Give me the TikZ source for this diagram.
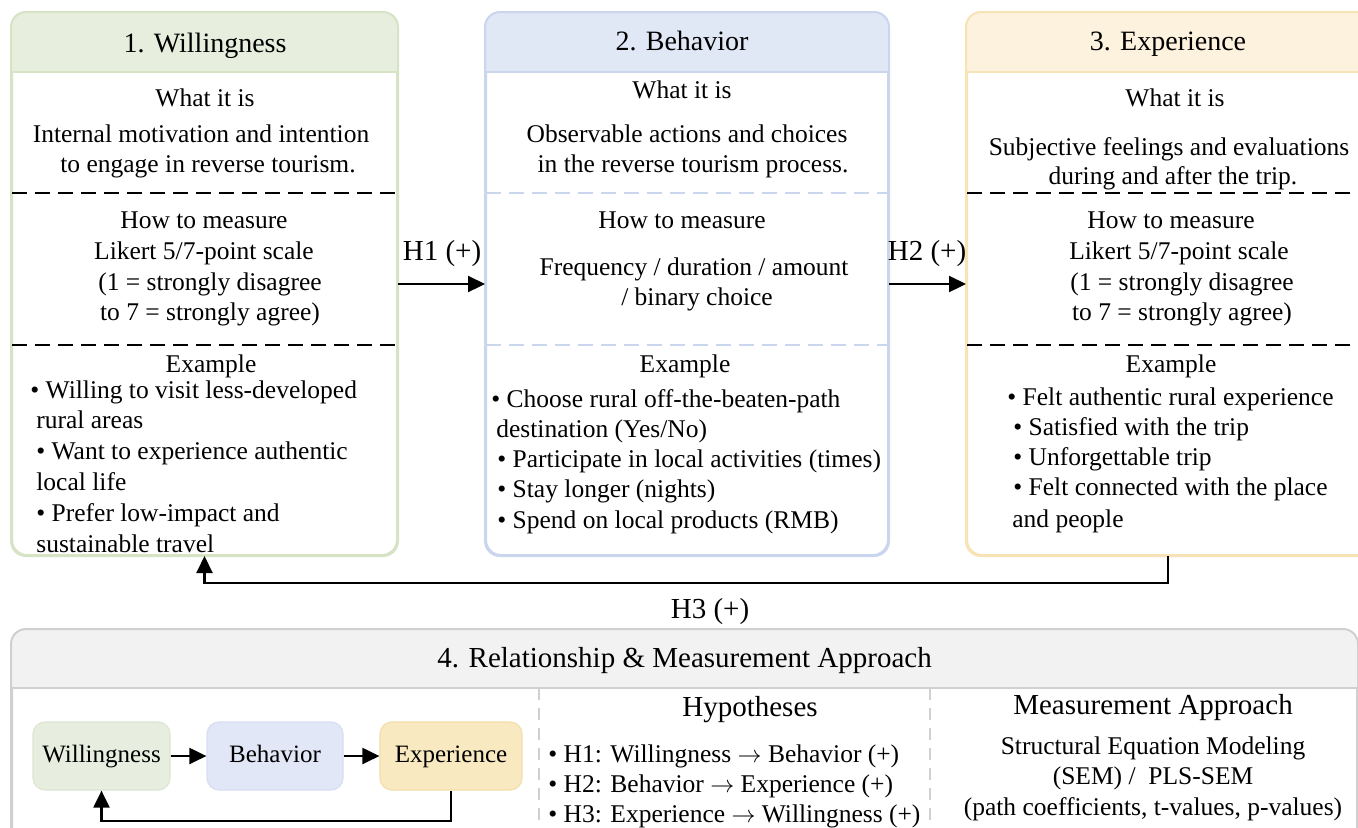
\documentclass[tikz,border=0pt]{standalone}
\usepackage{fontspec}
\setmainfont{Liberation Serif}
\usetikzlibrary{arrows.meta}
\definecolor{gH}{HTML}{E7EEDE}
\definecolor{gB}{HTML}{D6E3C4}
\definecolor{bH}{HTML}{E0E7F5}
\definecolor{bB}{HTML}{C9D6EE}
\definecolor{yH}{HTML}{FCF2DE}
\definecolor{yB}{HTML}{F7E3B5}
\definecolor{kH}{HTML}{F2F2F2}
\definecolor{kB}{HTML}{D0D0D0}
\definecolor{sgF}{HTML}{E8EEDF}
\definecolor{sgB}{HTML}{DDE6D1}
\definecolor{sbF}{HTML}{E1E7F6}
\definecolor{sbB}{HTML}{D6DFF2}
\definecolor{syF}{HTML}{F9E9C0}
\definecolor{syB}{HTML}{F3DEAC}
\begin{document}
\begin{tikzpicture}[x=0.5pt,y=-0.5pt,
  txt/.style={inner sep=0pt, font=\fontsize{12.75}{15.4}\selectfont},
  ttl/.style={inner sep=0pt, font=\fontsize{14}{17}\selectfont},
  big/.style={inner sep=0pt, font=\fontsize{14.5}{17}\selectfont},
  panel/.style={rectangle, rounded corners=7.5pt, line width=1pt, fill=white, inner sep=0pt},
  small/.style={rectangle, rounded corners=6pt, line width=0.6pt, inner sep=0pt, minimum height=34pt, text height=9pt, text depth=3pt, font=\fontsize{12.5}{15}\selectfont},
  conn/.style={line width=1.1pt, -{Triangle[length=8.5pt,width=8pt]}},
  blkdash/.style={line width=0.8pt, dash pattern=on 7.5pt off 4pt},
  bludash/.style={line width=0.8pt, bB, dash pattern=on 7.5pt off 4pt},
  sepdash/.style={line width=0.6pt, kB, dash pattern=on 6pt off 4pt}]
\useasboundingbox (0,0) rectangle (1358,827);
\clip (0,0) rectangle (1358,827);

% ---------- Panel 1 ----------
\node[panel, draw=gB, minimum width=192.5pt, minimum height=271pt] (p1) at (204.5,284) {};
\begin{scope}
\clip[rounded corners=7.5pt] (p1.north west) rectangle (p1.south east);
\fill[gH] (p1.north west) rectangle (397,72);
\end{scope}
\draw[gB, line width=1pt, rounded corners=7.5pt] (p1.north west) rectangle (p1.south east);
\draw[gB, line width=1pt] (12,72) -- (397,72);
\draw[blkdash] (12,193) -- (397,193);
\draw[blkdash] (12,345) -- (397,345);
\node[ttl, anchor=base] (h1) at (205,52) {1. Willingness};
\node[txt, anchor=base] (a1) at (205,106) {What it is};
\node[txt, anchor=base] (a2) at (201,142) {Internal motivation and intention};
\node[txt, anchor=base] (a3) at (208,172) {to engage in reverse tourism.};
\node[txt, anchor=base] (a4) at (204,228) {How to measure};
\node[txt, anchor=base] (a5) at (204,259) {Likert 5/7-point scale};
\node[txt, anchor=base] (a6) at (210,290) {(1 = strongly disagree};
\node[txt, anchor=base] (a7) at (210,320) {to 7 = strongly agree)};
\node[txt, anchor=base] (a8) at (211,372) {Example};
\node[txt, anchor=base west] (l1) at (30,398) {• Willing to visit less-developed};
\node[txt, anchor=base west] (l2) at (36,428) {rural areas};
\node[txt, anchor=base west] (l3) at (36,459) {• Want to experience authentic};
\node[txt, anchor=base west] (l4) at (36,490) {local life};
\node[txt, anchor=base west] (l5) at (36,521) {• Prefer low-impact and};
\node[txt, anchor=base west] (l6) at (36,552) {sustainable travel};

% ---------- Panel 2 ----------
\node[panel, draw=bB, minimum width=201pt, minimum height=271pt] (p2) at (687,284) {};
\begin{scope}
\clip[rounded corners=7.5pt] (p2.north west) rectangle (p2.south east);
\fill[bH] (p2.north west) rectangle (888,72);
\end{scope}
\draw[bB, line width=1pt, rounded corners=7.5pt] (p2.north west) rectangle (p2.south east);
\draw[bB, line width=1pt] (486,72) -- (888,72);
\draw[bludash] (486,193) -- (888,193);
\draw[bludash] (486,345) -- (888,345);
\node[ttl, anchor=base] (h2) at (682,50) {2. Behavior};
\node[txt, anchor=base] (b1) at (682,98) {What it is};
\node[txt, anchor=base] (b2) at (687,142) {Observable actions and choices};
\node[txt, anchor=base] (b3) at (693,172) {in the reverse tourism process.};
\node[txt, anchor=base] (b4) at (682,228) {How to measure};
\node[txt, anchor=base] (b5) at (694,275) {Frequency / duration / amount};
\node[txt, anchor=base] (b6) at (697,305) {/ binary choice};
\node[txt, anchor=base] (b7) at (685,372) {Example};
\node[txt, anchor=base west] (m1) at (491,407) {• Choose rural off-the-beaten-path};
\node[txt, anchor=base west] (m2) at (496,437) {destination (Yes/No)};
\node[txt, anchor=base west] (m3) at (497,467) {• Participate in local activities (times)};
\node[txt, anchor=base west] (m4) at (497,497) {• Stay longer (nights)};
\node[txt, anchor=base west] (m5) at (497,528) {• Spend on local products (RMB)};

% ---------- Panel 3 (runs off the right edge) ----------
\node[panel, draw=yB, minimum width=209pt, minimum height=271pt] (p3) at (1176,284) {};
\begin{scope}
\clip[rounded corners=7.5pt] (p3.north west) rectangle (p3.south east);
\fill[yH] (p3.north west) rectangle (1385,72);
\end{scope}
\draw[yB, line width=1pt, rounded corners=7.5pt] (p3.north west) rectangle (p3.south east);
\draw[yB, line width=1pt] (967,72) -- (1385,72);
\draw[blkdash] (967,193) -- (1385,193);
\draw[blkdash] (967,345) -- (1385,345);
\node[ttl, anchor=base] (h3) at (1168,50) {3. Experience};
\node[txt, anchor=base] (c1) at (1175,106) {What it is};
\node[txt, anchor=base] (c2) at (1169,155) {Subjective feelings and evaluations};
\node[txt, anchor=base] (c3) at (1173,184) {during and after the trip.};
\node[txt, anchor=base] (c4) at (1171,228) {How to measure};
\node[txt, anchor=base] (c5) at (1179,259) {Likert 5/7-point scale};
\node[txt, anchor=base] (c6) at (1182,290) {(1 = strongly disagree};
\node[txt, anchor=base] (c7) at (1182,320) {to 7 = strongly agree)};
\node[txt, anchor=base] (c8) at (1171,372) {Example};
\node[txt, anchor=base west] (n1) at (1007,405) {• Felt authentic rural experience};
\node[txt, anchor=base west] (n2) at (1013,435) {• Satisfied with the trip};
\node[txt, anchor=base west] (n3) at (1013,465) {• Unforgettable trip};
\node[txt, anchor=base west] (n4) at (1013,495) {• Felt connected with the place};
\node[txt, anchor=base west] (n5) at (1012,527) {and people};

% ---------- Connectors between panels ----------
\draw[conn] (p1.east) -- (p2.west);
\draw[conn] (p2.east) -- (p3.west);
\draw[conn] ([xshift=-4pt]p3.south) -- ++(0,27) -| (p1.south);
\node[big, anchor=base] (lh1) at (442,260) {H1 (+)};
\node[big, anchor=base] (lh2) at (927,260) {H2 (+)};
\node[big, anchor=base] (lh3) at (710,618) {H3 (+)};

% ---------- Panel 4 ----------
\node[panel, draw=kB, minimum width=672.5pt, minimum height=110pt] (p4) at (684.5,740) {};
\begin{scope}
\clip[rounded corners=7.5pt] (p4.north west) rectangle (p4.south east);
\fill[kH] (p4.north west) rectangle (1357,688);
\end{scope}
\draw[kB, line width=1pt, rounded corners=7.5pt] (p4.north west) rectangle (p4.south east);
\draw[kB, line width=1pt] (12,688) -- (1357,688);
\node[big, anchor=base] (h4) at (684.5,667) {4. Relationship \& Measurement Approach};
\draw[sepdash] (539,688) -- (539,827);
\draw[sepdash] (930,688) -- (930,827);

\node[small, fill=sgF, draw=sgB, minimum width=68.5pt] (sw) at (101.5,756) {Willingness};
\node[small, fill=sbF, draw=sbB, minimum width=68pt] (sb) at (275,756) {Behavior};
\node[small, fill=syF, draw=syB, minimum width=71pt] (se) at (451,756) {Experience};
\draw[conn] (sw) -- (sb);
\draw[conn] (sb) -- (se);
\draw[conn] (se.south) -- ++(0,30) -| (sw.south);

\node[big, anchor=base] (hyp) at (750,716) {Hypotheses};
\node[txt, anchor=base west] (q1) at (548,762) {• H1: Willingness $\rightarrow$ Behavior (+)};
\node[txt, anchor=base west] (q2) at (548,792) {• H2: Behavior $\rightarrow$ Experience (+)};
\node[txt, anchor=base west] (q3) at (548,822) {• H3: Experience $\rightarrow$ Willingness (+)};

\node[big, anchor=base] (ma) at (1153,714) {Measurement Approach};
\node[txt, anchor=base] (r1) at (1153,754) {Structural Equation Modeling};
\node[txt, anchor=base] (r2) at (1153,784) {(SEM) /\ \ PLS-SEM};
\node[txt, anchor=base] (r3) at (1153,815) {(path coefficients, t-values, p-values)};
\end{tikzpicture}
\end{document}
